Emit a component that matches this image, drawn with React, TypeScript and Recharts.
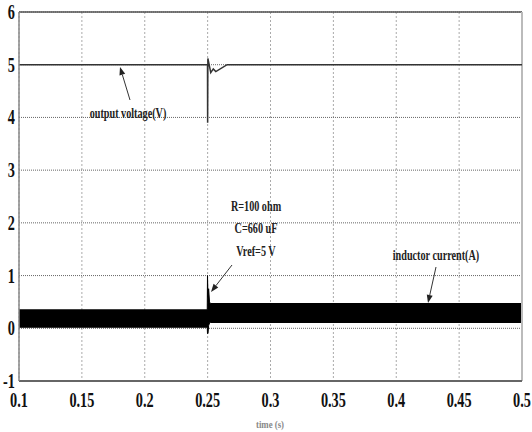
import * as React from 'react';
import {
  ComposedChart,
  Line,
  Area,
  XAxis,
  YAxis,
  CartesianGrid,
  ReferenceLine,
} from 'recharts';

// x-axis ticks (time, s) and y-axis ticks
const xTicks = [0.1, 0.15, 0.2, 0.25, 0.3, 0.35, 0.4, 0.45, 0.5];
const yTicks = [-1, 0, 1, 2, 3, 4, 5, 6];

// output voltage (V)
const voltageT = [0.1, 0.2499, 0.25, 0.2502, 0.2525, 0.2545, 0.2565, 0.2655, 0.5];
const voltageV = [5, 5, 3.9, 5.12, 4.85, 4.92, 4.87, 5.0, 5];

// inductor current (A): envelope of the ripple band
const currentT = [0.1, 0.2497, 0.2499, 0.2503, 0.2508, 0.2515, 0.2522, 0.5];
const currentLow = [0.02, 0.02, -0.1, -0.1, 0.05, 0.1, 0.11, 0.11];
const currentHigh = [0.35, 0.35, 1.0, 0.6, 0.75, 0.5, 0.47, 0.47];

const voltageData = voltageT.map((t, i) => ({ t, v: voltageV[i] }));
const currentData = currentT.map((t, i) => ({ t, band: [currentLow[i], currentHigh[i]] }));

const SERIF = '"Liberation Serif", "Times New Roman", serif';

const XTick = (props: any) => {
  const { x, y, payload } = props;
  return (
    <g transform={`translate(${x},${y + 26})`}>
      <text transform="scale(0.68,1)" textAnchor="middle" fontFamily={SERIF} fontWeight="bold" fontSize={21} fill="#111">
        {payload.value}
      </text>
    </g>
  );
};

const YTick = (props: any) => {
  const { x, y, payload } = props;
  return (
    <g transform={`translate(${x - 4},${y + 7})`}>
      <text transform="scale(0.68,1)" textAnchor="end" fontFamily={SERIF} fontWeight="bold" fontSize={21} fill="#111">
        {payload.value}
      </text>
    </g>
  );
};

// small condensed serif label
const Note = ({ x, y, children }: { x: number; y: number; children: React.ReactNode }) => (
  <g transform={`translate(${x},${y})`}>
    <text transform="scale(0.68,1)" textAnchor="middle" fontFamily={SERIF} fontWeight="bold" fontSize={15} fill="#222">
      {children}
    </text>
  </g>
);

const Arrow = ({ x1, y1, x2, y2 }: { x1: number; y1: number; x2: number; y2: number }) => {
  const dx = x2 - x1;
  const dy = y2 - y1;
  const len = Math.sqrt(dx * dx + dy * dy);
  const ux = dx / len;
  const uy = dy / len;
  const bx = x2 - ux * 8;
  const by = y2 - uy * 8;
  const px = -uy * 3;
  const py = ux * 3;
  return (
    <g>
      <line x1={x1} y1={y1} x2={bx} y2={by} stroke="#333" strokeWidth={1} />
      <polygon points={`${x2},${y2} ${bx + px},${by + py} ${bx - px},${by - py}`} fill="#222" />
    </g>
  );
};

export default function App() {
  return (
    <div style={{ position: 'absolute', left: 0, top: 0, width: 532, height: 432, background: '#fff' }}>
      <ComposedChart
        width={532}
        height={432}
        margin={{ top: 12, right: 10, left: 0, bottom: 0 }}
      >
        <CartesianGrid horizontal={false} vertical stroke="#aaa" strokeDasharray="2 2" />
        <CartesianGrid horizontal vertical={false} stroke="#666" strokeDasharray="1 1" />
        <XAxis
          type="number"
          dataKey="t"
          domain={[0.1, 0.5]}
          ticks={xTicks}
          height={51}
          tickSize={0}
          tickMargin={0}
          tick={<XTick />}
          stroke="#666"
          strokeWidth={2}
          allowDataOverflow
        />
        <YAxis
          type="number"
          domain={[-1, 6]}
          ticks={yTicks}
          width={19}
          tickSize={0}
          tickMargin={0}
          tick={<YTick />}
          stroke="#888"
          strokeWidth={1.5}
          allowDataOverflow
        />
        <ReferenceLine y={6} stroke="#555" strokeWidth={1.5} />
        <ReferenceLine x={0.5} stroke="#bbb" strokeWidth={2} />
        <Area
          data={currentData}
          dataKey="band"
          type="linear"
          stroke="#000"
          strokeWidth={1}
          fill="#000"
          fillOpacity={1}
          isAnimationActive={false}
          dot={false}
          activeDot={false}
        />
        <Line
          data={voltageData}
          dataKey="v"
          type="linear"
          stroke="#333"
          strokeWidth={1.5}
          dot={false}
          activeDot={false}
          isAnimationActive={false}
        />
      </ComposedChart>
      <svg width={532} height={432} style={{ position: 'absolute', left: 0, top: 0, pointerEvents: 'none' }}>
        <Note x={128} y={118}>output voltage(V)</Note>
        <Arrow x1={130} y1={100} x2={120} y2={67} />
        <Note x={256} y={211}>R=100 ohm</Note>
        <Note x={256} y={233}>C=660 uF</Note>
        <Note x={256} y={256}>Vref=5 V</Note>
        <Arrow x1={232} y1={265} x2={211} y2={292} />
        <Note x={436} y={260}>inductor current(A)</Note>
        <Arrow x1={436} y1={267} x2={428} y2={303} />
        <g transform="translate(270,428)">
          <text transform="scale(0.8,1)" textAnchor="middle" fontFamily={SERIF} fontWeight="bold" fontSize={11} fill="#888">
            time (s)
          </text>
        </g>
      </svg>
    </div>
  );
}
